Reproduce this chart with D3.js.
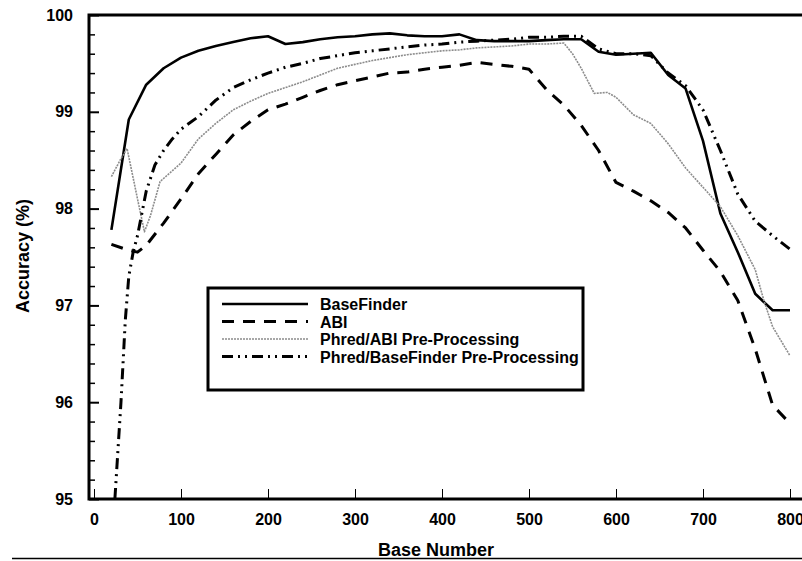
<!DOCTYPE html>
<html>
<head>
<meta charset="utf-8">
<script src="https://cdn.jsdelivr.net/npm/d3@7"></script>
<style>
  body { margin: 0; background: #fff; }
  svg text { font-family: "Liberation Sans", Arial, sans-serif; font-weight: bold; fill: #000; }
</style>
</head>
<body>
<svg id="vimage" width="802" height="561"></svg>
<script>
//---------------------------------------- data ---------------------------------------
var baseFinderX = [20, 40, 60, 80, 100, 120, 140, 160, 180, 200, 220, 240, 260, 280, 300, 320, 340, 360, 380, 400,
                   420, 440, 460, 480, 500, 520, 540, 560, 580, 600, 620, 640, 660, 680, 700, 720, 740, 760, 780, 800];
var baseFinderY = [97.78, 98.92, 99.28, 99.45, 99.56, 99.63, 99.68, 99.72, 99.76, 99.78, 99.70, 99.72, 99.75, 99.77, 99.78, 99.80, 99.81, 99.79, 99.78, 99.78,
                   99.80, 99.74, 99.73, 99.73, 99.73, 99.74, 99.75, 99.75, 99.62, 99.59, 99.60, 99.61, 99.38, 99.24, 98.70, 97.95, 97.55, 97.12, 96.95, 96.95];

var abiX = [20, 40, 50, 60, 80, 100, 120, 140, 160, 180, 200, 220, 240, 260, 280, 300, 320, 340, 360, 380, 400,
            420, 440, 460, 480, 500, 520, 540, 560, 580, 600, 620, 640, 660, 680, 700, 720, 740, 760, 780, 800];
var abiY = [97.63, 97.57, 97.55, 97.62, 97.85, 98.10, 98.36, 98.56, 98.76, 98.90, 99.02, 99.08, 99.15, 99.22, 99.28, 99.32, 99.36, 99.40, 99.41, 99.44, 99.46,
            99.48, 99.51, 99.49, 99.47, 99.44, 99.23, 99.07, 98.86, 98.60, 98.27, 98.18, 98.08, 97.96, 97.80, 97.57, 97.35, 97.05, 96.55, 95.97, 95.78];

var phredAbiX = [20, 30, 38, 50, 58, 65, 76, 100, 120, 140, 160, 180, 200, 220, 240, 260, 280, 300, 320, 340, 360, 380, 400,
                 420, 440, 460, 480, 500, 520, 540, 550, 560, 575, 590, 600, 620, 640, 660, 680, 700, 720, 740, 760, 770, 780, 800];
var phredAbiY = [98.33, 98.50, 98.62, 98.10, 97.76, 97.93, 98.28, 98.47, 98.72, 98.88, 99.02, 99.11, 99.19, 99.25, 99.31, 99.38, 99.45, 99.49, 99.53, 99.56, 99.59, 99.61, 99.63,
                 99.64, 99.66, 99.67, 99.68, 99.70, 99.70, 99.71, 99.60, 99.45, 99.19, 99.20, 99.15, 98.97, 98.88, 98.67, 98.42, 98.22, 98.02, 97.72, 97.37, 97.05, 96.78, 96.48];

var phredBfX = [24, 31, 36, 40, 45, 50, 55, 60, 70, 80, 90, 100, 120, 140, 160, 180, 200, 220, 240, 260, 280, 300, 320, 340, 360, 380, 400,
                420, 440, 460, 480, 500, 520, 540, 560, 580, 600, 620, 640, 660, 680, 700, 720, 740, 760, 780, 800];
var phredBfY = [95.00, 96.00, 96.85, 97.30, 97.55, 97.72, 97.95, 98.18, 98.45, 98.60, 98.72, 98.82, 98.95, 99.12, 99.25, 99.33, 99.40, 99.46, 99.50, 99.55, 99.58, 99.61, 99.63, 99.65, 99.67, 99.69, 99.70,
                99.72, 99.73, 99.74, 99.75, 99.77, 99.77, 99.78, 99.78, 99.65, 99.60, 99.60, 99.58, 99.40, 99.27, 99.02, 98.60, 98.15, 97.87, 97.72, 97.58];

var seriesNames = ["BaseFinder", "ABI", "Phred/ABI Pre-Processing", "Phred/BaseFinder Pre-Processing"];
var xTicks = [0, 100, 200, 300, 400, 500, 600, 700, 800];
var yTicks = [95, 96, 97, 98, 99, 100];
var yMinorTicks = [95.2, 95.4, 95.6, 95.8, 96.2, 96.4, 96.6, 96.8, 97.2, 97.4, 97.6, 97.8, 98.2, 98.4, 98.6, 98.8, 99.2, 99.4, 99.6, 99.8];

//---------------------------------------- layout ---------------------------------------
var svg = d3.select("#vimage");
var frameLeft = 89, frameRight = 802, frameTop = 15, frameBottom = 499;

var x = d3.scaleLinear().domain([0, 800]).range([94, 790]);
var y = d3.scaleLinear().domain([95, 100]).range([frameBottom, frameTop]);

var styles = [
  { stroke: "#000", width: 2.6, dash: null },
  { stroke: "#000", width: 3, dash: "12,9" },
  { stroke: "#8c8c8c", width: 1.6, dash: "2,1" },
  { stroke: "#000", width: 3, dash: "11,5,2,5,2,5" }
];

var series = [
  { xs: baseFinderX, ys: baseFinderY },
  { xs: abiX, ys: abiY },
  { xs: phredAbiX, ys: phredAbiY },
  { xs: phredBfX, ys: phredBfY }
];

//---------------------------------------- axes ---------------------------------------
// minor y ticks
svg.append("g")
  .attr("transform", "translate(" + frameLeft + ",0)")
  .call(d3.axisLeft(y).tickValues(yMinorTicks).tickSize(-6).tickFormat(""))
  .call(function(g) { g.select(".domain").remove(); })
  .selectAll("line").attr("stroke", "#000").attr("stroke-width", 1.5);

var yAxis = svg.append("g")
  .attr("transform", "translate(" + frameLeft + ",0)")
  .call(d3.axisLeft(y).tickValues(yTicks).tickSize(-10).tickPadding(16).tickFormat(d3.format("d")));
yAxis.select(".domain").remove();
yAxis.selectAll("line").attr("stroke", "#000").attr("stroke-width", 2);
yAxis.selectAll("text").style("font-size", "16px");

var xAxis = svg.append("g")
  .attr("transform", "translate(0," + frameBottom + ")")
  .call(d3.axisBottom(x).tickValues(xTicks).tickSize(-10).tickPadding(15));
xAxis.select(".domain").remove();
xAxis.selectAll("line").attr("stroke", "#000").attr("stroke-width", 1);
xAxis.selectAll("text").style("font-size", "16px");

// frame
svg.append("path")
  .attr("d", "M" + frameRight + "," + frameTop + "H" + frameLeft + "V" + frameBottom + "H" + frameRight)
  .attr("fill", "none")
  .attr("stroke", "#000")
  .attr("stroke-width", 3);

//---------------------------------------- lines ---------------------------------------
var line = d3.line()
  .x(function(d) { return x(d[0]); })
  .y(function(d) { return y(d[1]); });

series.forEach(function(s, i) {
  var pts = s.xs.map(function(v, j) { return [v, s.ys[j]]; });
  svg.append("path")
    .datum(pts)
    .attr("d", line)
    .attr("fill", "none")
    .attr("stroke", styles[i].stroke)
    .attr("stroke-width", styles[i].width)
    .attr("stroke-dasharray", styles[i].dash)
    .attr("stroke-linejoin", "round");
});

//---------------------------------------- labels ---------------------------------------
svg.append("text")
  .attr("x", 436)
  .attr("y", 556)
  .attr("text-anchor", "middle")
  .style("font-size", "18px")
  .text("Base Number");

svg.append("text")
  .attr("transform", "translate(29,256) rotate(-90)")
  .attr("text-anchor", "middle")
  .style("font-size", "18px")
  .text("Accuracy (%)");

svg.append("line")
  .attr("x1", 12).attr("x2", 802)
  .attr("y1", 558.5).attr("y2", 558.5)
  .attr("stroke", "#000")
  .attr("stroke-width", 1.5);

//---------------------------------------- legend ---------------------------------------
var legend = svg.append("g").attr("transform", "translate(208,288)");

legend.append("rect")
  .attr("x", 0).attr("y", 0)
  .attr("width", 375).attr("height", 102)
  .attr("fill", "#fff")
  .attr("stroke", "#000")
  .attr("stroke-width", 3);

var legendItems = legend.selectAll(".legendItem")
  .data(seriesNames)
  .enter().append("g")
  .attr("class", "legendItem")
  .attr("transform", function(d, i) { return "translate(0," + (16 + i * 17.5) + ")"; });

legendItems.append("line")
  .attr("x1", 14).attr("x2", 100)
  .attr("y1", 0).attr("y2", 0)
  .attr("stroke", function(d, i) { return styles[i].stroke; })
  .attr("stroke-width", function(d, i) { return styles[i].width; })
  .attr("stroke-dasharray", function(d, i) { return styles[i].dash; });

legendItems.append("text")
  .attr("x", 112)
  .attr("y", 6)
  .style("font-size", "16px")
  .text(function(d) { return d; });
</script>
</body>
</html>
